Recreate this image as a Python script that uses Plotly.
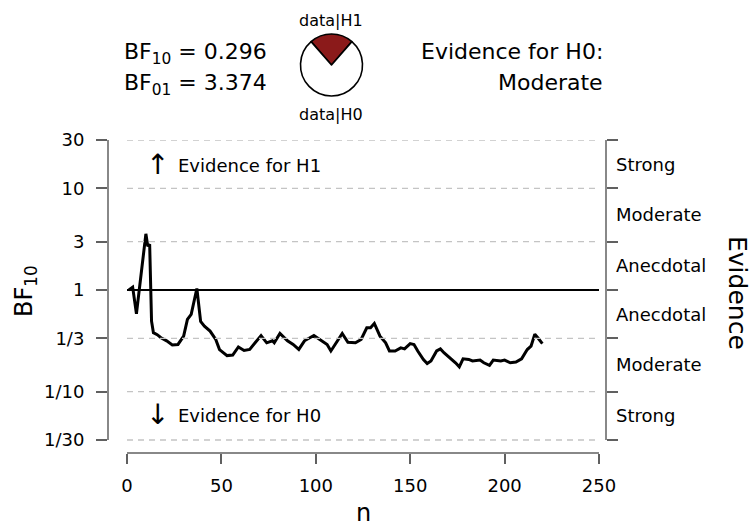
import math
import plotly.graph_objects as go

W, H = 751, 527
FONT = "DejaVu Sans"

# ---- data ----
n_obs = [1, 3, 5, 10, 11, 12, 13, 14, 16, 18, 21, 24, 27, 30, 32, 34, 37, 39, 41, 44,
         47, 49, 53, 56, 59, 62, 65, 69, 71, 74, 77, 78, 81, 85, 88, 91, 94, 99, 102, 106,
         108, 111, 114, 117, 121, 124, 127, 129, 131, 134, 137, 139, 142, 145, 147, 150, 152, 154, 157, 159,
         161, 164, 166, 168, 171, 174, 176, 178, 181, 183, 187, 189, 192, 194, 198, 200, 203, 206, 209, 212,
         214, 216, 218, 220]
bf10 = [1.000, 1.067, 0.583, 3.573, 2.692, 2.818, 0.493, 0.380, 0.363, 0.339, 0.316, 0.288, 0.291, 0.351, 0.513, 0.575, 1.035, 0.490, 0.441, 0.394,
        0.326, 0.259, 0.226, 0.229, 0.275, 0.254, 0.260, 0.316, 0.356, 0.302, 0.316, 0.302, 0.373, 0.316, 0.291, 0.260, 0.316, 0.356, 0.326, 0.291,
        0.251, 0.302, 0.373, 0.306, 0.302, 0.326, 0.425, 0.425, 0.468, 0.351, 0.302, 0.251, 0.251, 0.269, 0.263, 0.297, 0.291, 0.251, 0.207, 0.189,
        0.200, 0.251, 0.263, 0.240, 0.215, 0.192, 0.175, 0.210, 0.207, 0.200, 0.204, 0.192, 0.181, 0.204, 0.200, 0.204, 0.192, 0.195, 0.210, 0.259,
        0.280, 0.366, 0.331, 0.296]

bf10_final = 0.296
bf01_final = 3.374
evidence_text = "Moderate"

y_tickvals = [1/30, 1/10, 1/3, 1, 3, 10, 30]
y_ticktext = ["1/30", "1/10", "1/3", "1", "3", "10", "30"]
x_tickvals = [0, 50, 100, 150, 200, 250]
evidence_labels = ["Strong", "Moderate", "Anecdotal", "Anecdotal", "Moderate", "Strong"]
evidence_mids = [(y_tickvals[i] * y_tickvals[i + 1]) ** 0.5 for i in range(6)]
grid_vals = [1/30, 1/10, 1/3, 3, 10, 30]

# ---- geometry helpers (pixels -> paper fractions; margins are zero) ----
def px(x):
    return x / W

def py(y):
    return 1 - y / H

left_px, right_px = 108, 606
top_px, bottom_px = 140, 453
x0_px, x250_px = 127, 599
ppu = (x250_px - x0_px) / 250.0
xr = [(left_px - x0_px) / ppu, (right_px - x0_px) / ppu]
ytop = math.log10(30)
ppd = 300 / (2 * ytop)
yr = [-ytop - (bottom_px - 440) / ppd, ytop]

fig = go.Figure()

# gridlines (on the right tick axis, same scale)
for g in grid_vals:
    fig.add_trace(go.Scatter(x=[0, 250], y=[g, g], mode="lines", yaxis="y2",
                             line=dict(color="#c4c4c4", width=1.3, dash="6px,5px"),
                             hoverinfo="skip", showlegend=False))
# line at 1 (on the evidence-label axis, same scale)
fig.add_trace(go.Scatter(x=[0, 250], y=[1, 1], mode="lines", yaxis="y3",
                         line=dict(color="black", width=2), hoverinfo="skip", showlegend=False))
# BF curve
fig.add_trace(go.Scatter(x=n_obs, y=bf10, mode="lines",
                         line=dict(color="black", width=3), showlegend=False))

# pie
frac_h1 = bf10_final / (1 + bf10_final)
fig.add_trace(go.Pie(values=[bf10_final, 1], labels=["data|H1", "data|H0"], sort=False,
                     direction="clockwise", rotation=-180 * frac_h1,
                     marker=dict(colors=["#8b1a1a", "white"], line=dict(color="black", width=1.6)),
                     textinfo="none", hoverinfo="skip", showlegend=False,
                     domain=dict(x=[px(300.5), px(362.5)], y=[py(97), py(33)])))

axcol = "#606060"
axis_common = dict(showgrid=False, zeroline=False, showline=False, ticks="outside",
                   tickcolor=axcol, tickwidth=1.5,
                   tickfont=dict(family=FONT, size=18, color="black"))

fig.update_layout(
    width=W, height=H, template="none",
    margin=dict(l=0, r=0, t=0, b=0),
    paper_bgcolor="white", plot_bgcolor="white",
    showlegend=False,
    xaxis=dict(domain=[px(left_px), px(right_px)], range=xr, tickvals=x_tickvals,
               ticklen=10, anchor="y", ticklabelstandoff=6, **axis_common),
    yaxis=dict(domain=[py(bottom_px), py(top_px)], type="log", range=yr,
               tickvals=y_tickvals, ticktext=y_ticktext, ticklen=11, anchor="x",
               ticklabelstandoff=8, **axis_common),
    yaxis2=dict(overlaying="y", side="right", anchor="x", type="log", range=yr,
                tickvals=y_tickvals, showticklabels=False, ticklen=11,
                **{k: v for k, v in axis_common.items() if k != "tickfont"}),
    yaxis3=dict(overlaying="y", side="right", anchor="x", type="log", range=yr,
                tickvals=evidence_mids, ticktext=evidence_labels, showgrid=False,
                zeroline=False, showline=False, ticks="", ticklabelstandoff=9,
                tickfont=dict(family=FONT, size=18, color="black")),
)

# axis lines (R-style, spanning only the tick range)
fig.add_shape(type="line", xref="x domain", x0=0, x1=0, yref="y", y0=1/30, y1=30,
              line=dict(color=axcol, width=1.5))
fig.add_shape(type="line", xref="x domain", x0=1, x1=1, yref="y", y0=1/30, y1=30,
              line=dict(color=axcol, width=1.5))
fig.add_shape(type="line", xref="x", x0=0, x1=250, yref="y domain", y0=0, y1=0,
              line=dict(color=axcol, width=1.5))

def ann(text, x, y, size, xanchor="center", yanchor="middle", angle=0):
    fig.add_annotation(text=text, x=px(x), y=py(y), xref="paper", yref="paper",
                       xanchor=xanchor, yanchor=yanchor, showarrow=False, textangle=angle,
                       font=dict(family=FONT, size=size, color="black"))

# axis titles
ann("BF<sub>10</sub>", 25, 291, 24, angle=-90)
ann("n", 363, 513, 24)
ann("Evidence", 738, 293, 25, angle=90)

# in-plot evidence hints
ann("↑", 157, 164, 28)
ann("Evidence for H1", 176, 165, 18, xanchor="left")
ann("↓", 157, 414, 28)
ann("Evidence for H0", 176, 415, 18, xanchor="left")

# top text
ann(f"BF<sub>10</sub> = {bf10_final:.3f}", 122, 54, 22, xanchor="left")
ann(f"BF<sub>01</sub> = {bf01_final:.3f}", 122, 85, 22, xanchor="left")
ann("Evidence for H0:", 605, 51, 22, xanchor="right")
ann(evidence_text, 605, 83, 22, xanchor="right")
ann("data|H1", 331, 20, 16)
ann("data|H0", 331, 114, 16)

html = fig.to_html(full_html=True, include_plotlyjs=True, config=dict(displayModeBar=False))
html = html.replace("<head>", "<head><style>html,body{margin:0;padding:0;overflow:hidden;}</style>", 1)
with open("out.html", "w", encoding="utf-8") as f:
    f.write(html)
